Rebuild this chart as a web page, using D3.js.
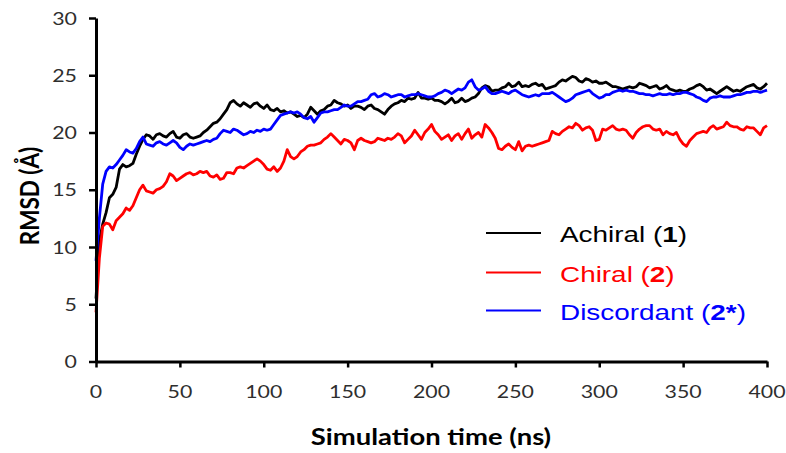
<!DOCTYPE html>
<html>
<head>
<meta charset="utf-8">
<script src="https://cdn.jsdelivr.net/npm/d3@7"></script>
<style>
  html, body { margin: 0; padding: 0; background: #fff; }
  svg { display: block; }
</style>
</head>
<body>
<svg id="chart" width="786" height="453"></svg>
<script>
// RMSD trajectories, sampled every 2 ns from 0 to 400 ns
const timeStep = 2;

const achiral = [
  5.5, 10.5, 12.0, 13.0, 14.3, 14.6, 15.2, 16.8, 17.2, 17.0,
  17.1, 17.3, 18.1, 18.8, 19.4, 19.8, 19.7, 19.4, 19.8, 19.9,
  19.7, 19.6, 19.9, 20.1, 19.6, 19.5, 19.8, 19.9, 19.6, 19.5,
  19.6, 19.7, 20.0, 20.2, 20.5, 20.8, 20.9, 21.2, 21.6, 22.0,
  22.6, 22.8, 22.5, 22.3, 22.6, 22.4, 22.2, 22.5, 22.6, 22.3,
  22.1, 22.4, 22.0, 21.9, 22.1, 21.8, 21.9, 21.7, 21.8, 21.6,
  21.4, 21.5, 21.3, 21.6, 22.2, 21.9, 21.6, 21.9, 22.0, 22.3,
  22.4, 22.8, 22.6, 22.5, 22.3, 22.4, 22.1, 22.3, 22.3, 22.2,
  22.0, 22.3, 22.4, 22.1, 22.0, 21.8, 21.6, 22.0, 22.3, 22.5,
  22.6, 22.8, 22.7, 23.0, 22.9, 23.0, 23.5, 23.0, 23.0, 22.9,
  23.0, 22.8, 22.8, 22.7, 22.5, 22.7, 23.0, 22.6, 22.7, 23.0,
  22.7, 22.8, 23.0, 23.1, 23.4, 23.9, 24.1, 24.0, 23.6, 23.7,
  23.7, 23.9, 24.0, 24.3, 24.0, 24.1, 24.4, 24.0, 24.1, 24.0,
  24.2, 24.3, 24.1, 24.2, 23.8, 23.9, 24.0, 24.1, 24.4, 24.6,
  24.5, 24.7, 24.9, 24.8, 24.5, 24.4, 24.7, 24.6, 24.4, 24.5,
  24.3, 24.3, 24.4, 24.2, 24.0, 24.0, 23.9, 23.8, 23.9, 24.0,
  23.9, 24.0, 24.3, 24.2, 24.1, 23.9, 24.0, 24.1, 23.8, 23.9,
  24.1, 23.8, 23.7, 23.6, 23.7, 23.6, 23.6, 23.8, 23.9, 24.1,
  24.2, 24.0, 23.7, 23.8, 23.6, 23.4, 23.6, 23.8, 24.0, 23.8,
  23.6, 23.7, 23.6, 23.8, 24.0, 24.1, 24.2, 23.9, 23.8, 24.0,
  24.3
];

const chiral = [
  4.3, 9.0, 11.8, 12.1, 12.0, 11.5, 12.3, 12.6, 12.9, 13.4,
  13.2, 13.6, 14.3, 15.0, 15.4, 14.9, 14.8, 14.7, 15.0, 15.1,
  15.3, 15.7, 16.4, 16.2, 15.8, 16.0, 16.2, 16.4, 16.5, 16.3,
  16.4, 16.6, 16.5, 16.6, 16.2, 16.1, 16.3, 15.9, 16.0, 16.5,
  16.5, 16.4, 16.9, 17.0, 16.9, 17.1, 17.3, 17.5, 17.7, 17.5,
  17.2, 16.8, 16.7, 17.0, 16.6, 16.9, 17.5, 18.5, 17.9, 17.7,
  17.9, 18.3, 18.5, 18.8, 18.9, 18.9, 19.0, 19.1, 19.4, 19.6,
  19.9, 19.6, 19.3, 19.0, 19.4, 19.3, 19.1, 18.5, 19.3, 19.5,
  19.3, 19.2, 19.1, 19.2, 19.5, 19.4, 19.3, 19.5, 19.4, 19.6,
  19.9, 19.7, 19.1, 19.4, 19.7, 20.2, 19.8, 19.4, 20.0, 20.3,
  20.7, 20.1, 19.8, 19.4, 19.6, 19.8, 19.3, 19.7, 19.9, 19.4,
  19.9, 20.3, 19.5, 19.8, 20.0, 19.6, 20.7, 20.4, 20.0, 19.5,
  18.6, 18.5, 18.8, 19.0, 18.7, 18.5, 19.2, 18.4, 18.8, 18.9,
  18.8, 18.9, 19.0, 19.1, 19.2, 19.3, 20.1, 19.9, 19.8, 20.1,
  20.3, 20.5, 20.4, 20.8, 20.6, 20.2, 20.4, 20.5, 20.2, 19.3,
  19.4, 20.3, 20.2, 20.4, 20.6, 20.3, 20.2, 20.3, 20.2, 19.8,
  19.5, 20.0, 20.3, 20.5, 20.6, 20.6, 20.3, 20.2, 20.3, 19.8,
  20.1, 19.9, 19.8, 20.0, 19.4, 19.0, 18.8, 19.3, 19.6, 19.9,
  20.0, 20.1, 20.0, 20.4, 20.6, 20.3, 20.4, 20.5, 20.9, 20.6,
  20.5, 20.5, 20.3, 20.2, 20.5, 20.4, 20.4, 20.1, 19.8, 20.4,
  20.6
];

const discordant = [
  8.8, 12.5, 15.5, 16.6, 17.0, 16.9, 17.2, 17.6, 18.0, 18.5,
  18.3, 18.2, 18.6, 19.2, 19.6, 19.0, 18.9, 18.8, 19.1, 19.2,
  19.0, 18.9, 19.1, 19.3, 19.1, 18.7, 18.5, 18.8, 19.0, 18.9,
  19.0, 19.1, 19.2, 19.3, 19.2, 19.4, 19.5, 19.9, 20.2, 20.1,
  20.0, 20.3, 20.2, 20.0, 19.8, 19.9, 20.1, 20.0, 20.2, 20.1,
  20.3, 20.2, 20.3, 20.7, 21.1, 21.5, 21.6, 21.7, 21.8, 21.7,
  21.8, 21.6, 21.3, 21.2, 21.4, 20.9, 21.3, 21.7, 21.8, 21.8,
  21.9, 22.0, 22.0, 22.2, 22.4, 22.3, 22.3, 22.5, 22.7, 22.7,
  22.8, 22.9, 23.3, 23.4, 23.1, 23.2, 23.4, 23.3, 23.1, 23.2,
  23.3, 23.3, 23.1, 23.2, 23.3, 23.3, 23.4, 23.3, 23.2, 23.1,
  23.1, 23.2, 23.4, 23.5, 23.7, 23.6, 23.4, 23.6, 23.8, 23.7,
  23.9, 24.4, 24.6, 24.0, 23.7, 23.8, 24.0, 23.6, 23.4, 23.4,
  23.5, 23.6, 23.5, 23.4, 23.6, 23.7, 23.5, 23.3, 23.2, 23.1,
  23.2, 23.3, 23.2, 23.4, 23.4, 23.4, 23.5, 23.3, 23.1, 22.9,
  22.7, 22.8, 23.0, 23.3, 23.4, 23.5, 23.6, 23.7, 23.4, 23.2,
  23.0, 23.1, 23.3, 23.3, 23.5, 23.6, 23.7, 23.6, 23.7, 23.6,
  23.6, 23.5, 23.4, 23.4, 23.3, 23.3, 23.2, 23.3, 23.4, 23.3,
  23.3, 23.4, 23.3, 23.4, 23.4, 23.5, 23.5, 23.4, 23.3, 23.1,
  23.0, 22.8, 22.7, 23.0, 23.1, 23.1, 23.2, 23.1, 23.1, 23.1,
  23.2, 23.3, 23.3, 23.4, 23.5, 23.5, 23.6, 23.6, 23.5, 23.6,
  23.7
];

const seriesNames = ["Achiral", "Chiral", "Discordant"];
const seriesLabels = ["1", "2", "2*"];
const seriesColors = ["#000000", "#ff0000", "#0000ff"];
const xTicks = [0, 50, 100, 150, 200, 250, 300, 350, 400];
const yTicks = [0, 5, 10, 15, 20, 25, 30];
const xTitle = "Simulation time (ns)";
const yTitle = "RMSD (Å)";

const svg = d3.select("#chart");
const stretch = 1.22; // glyphs are drawn slightly wide

const x = d3.scaleLinear().domain([0, 400]).range([96, 767]);
const y = d3.scaleLinear().domain([0, 30]).range([361.5, 18]);

// Series lines
const allSeries = [achiral, chiral, discordant];
const line = d3.line()
  .x((d, i) => x(i * timeStep))
  .y(d => y(d));

const plot = svg.append("g");
allSeries.forEach((vals, k) => {
  plot.append("path")
    .datum(vals)
    .attr("fill", "none")
    .attr("stroke", seriesColors[k])
    .attr("stroke-width", 2.8)
    .attr("stroke-linejoin", "round")
    .attr("d", line);
});

// Axes
const xAxis = svg.append("g")
  .attr("transform", `translate(0,${y(0)})`)
  .call(d3.axisBottom(x).tickValues(xTicks).tickSize(6).tickSizeOuter(0).tickFormat(() => ""));
const yAxis = svg.append("g")
  .attr("transform", `translate(${x(0)},0)`)
  .call(d3.axisLeft(y).tickValues(yTicks).tickSize(7).tickSizeOuter(0).tickFormat(() => ""));

[xAxis, yAxis].forEach(g => {
  g.select(".domain").attr("stroke", "#000").attr("stroke-width", 3);
  g.selectAll(".tick line").attr("stroke", "#000").attr("stroke-width", 2.5);
});

// Tick labels (stretched horizontally)
const tickFont = "Lato, 'Open Sans', sans-serif";
svg.append("g").selectAll("text")
  .data(xTicks)
  .join("text")
  .attr("transform", d => `translate(${x(d)},${y(0) + 36}) scale(${stretch},1)`)
  .attr("text-anchor", "middle")
  .attr("font-family", tickFont)
  .attr("font-size", 17.5)
  .attr("fill", "#2e2e2e")
  .text(d => d);

svg.append("g").selectAll("text")
  .data(yTicks)
  .join("text")
  .attr("transform", d => `translate(${x(0) - 19},${y(d) + 6.5}) scale(${stretch},1)`)
  .attr("text-anchor", "end")
  .attr("font-family", tickFont)
  .attr("font-size", 17.5)
  .attr("fill", "#2e2e2e")
  .text(d => d);

// Axis titles
svg.append("text")
  .attr("transform", `translate(431,445) scale(${stretch},1)`)
  .attr("text-anchor", "middle")
  .attr("font-family", tickFont)
  .attr("font-weight", "bold")
  .attr("font-size", 22.5)
  .attr("fill", "#000")
  .text(xTitle);

svg.append("text")
  .attr("transform", `translate(39,196) scale(${stretch},1) rotate(-90)`)
  .attr("text-anchor", "middle")
  .attr("font-family", tickFont)
  .attr("font-weight", "bold")
  .attr("font-size", 22.5)
  .attr("fill", "#000")
  .text(yTitle);

// Legend
const legendY = [233, 272.5, 310.5];
const legend = svg.append("g");
seriesNames.forEach((name, k) => {
  legend.append("line")
    .attr("x1", 486).attr("x2", 541)
    .attr("y1", legendY[k]).attr("y2", legendY[k])
    .attr("stroke", seriesColors[k])
    .attr("stroke-width", 2);
  const t = legend.append("text")
    .attr("transform", `translate(560,${legendY[k] + 9}) scale(1.24,1)`)
    .attr("font-family", "'Liberation Sans', Arial, sans-serif")
    .attr("font-size", 22.5)
    .attr("fill", seriesColors[k]);
  t.append("tspan").text(name + " (");
  t.append("tspan").attr("font-weight", "bold").text(seriesLabels[k]);
  t.append("tspan").text(")");
});
</script>
</body>
</html>
